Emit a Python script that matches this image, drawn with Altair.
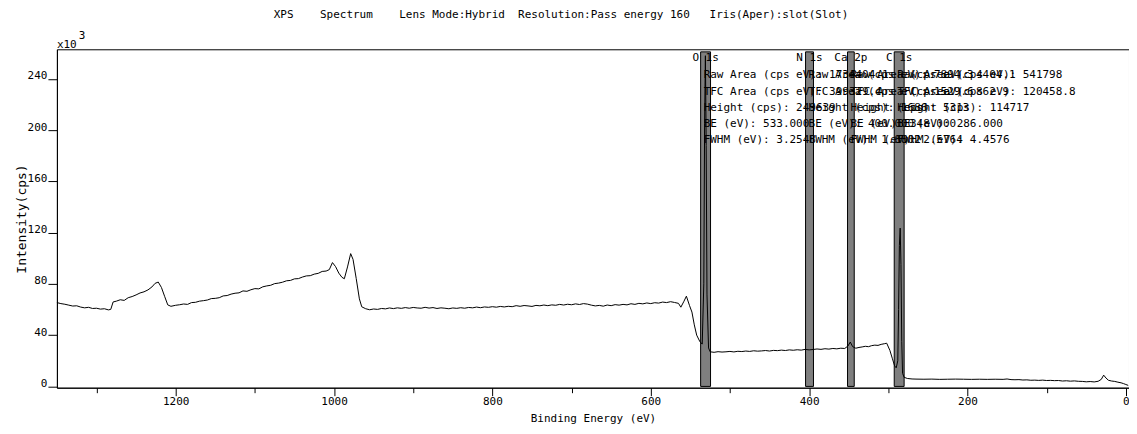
import altair as alt
import pandas as pd

FONT = "DejaVu Sans Mono"

# ---- spectrum (binding energy in eV, intensity in 10^3 cps) ----
be_ev = [
    1350, 1345, 1340, 1335, 1330, 1325, 1320, 1315, 1310, 1305,
    1300, 1295, 1290, 1285, 1282, 1279, 1275, 1270, 1265, 1260,
    1255, 1250, 1245, 1240, 1235, 1230, 1226, 1222, 1218, 1214,
    1210, 1206, 1200, 1195, 1190, 1185, 1180, 1175, 1170, 1165,
    1160, 1155, 1150, 1145, 1140, 1135, 1130, 1125, 1120, 1115,
    1110, 1105, 1100, 1095, 1090, 1085, 1080, 1075, 1070, 1065,
    1060, 1055, 1050, 1045, 1040, 1035, 1030, 1025, 1020, 1015,
    1010, 1006, 1002, 998, 994, 990, 987, 983, 979, 976,
    972, 968, 965, 960, 955, 950, 945, 940, 935, 930,
    925, 920, 915, 910, 905, 900, 895, 890, 885, 880,
    875, 870, 865, 860, 855, 850, 845, 840, 835, 830,
    825, 820, 815, 810, 805, 800, 795, 790, 785, 780,
    775, 770, 765, 760, 755, 750, 745, 740, 735, 730,
    725, 720, 715, 710, 705, 700, 695, 690, 685, 680,
    675, 670, 665, 660, 655, 650, 645, 640, 635, 630,
    625, 620, 615, 610, 605, 600, 595, 590, 585, 580,
    575, 570, 565, 562, 558, 555, 551, 548, 545, 542,
    538, 535, 533, 532, 531, 530, 529, 527, 525, 520,
    515, 510, 505, 500, 495, 490, 485, 480, 475, 470,
    465, 460, 455, 450, 445, 440, 435, 430, 425, 420,
    415, 410, 405, 400, 395, 390, 385, 380, 375, 370,
    365, 360, 355, 351, 348, 345, 341, 337, 333, 329,
    325, 321, 317, 313, 309, 305, 302, 298, 295, 292,
    290, 288, 287, 286, 285, 284, 283, 282, 280, 276,
    270, 265, 255, 245, 235, 225, 215, 205, 195, 185,
    175, 165, 155, 150, 145, 140, 135, 130, 125, 120,
    115, 110, 105, 100, 95, 90, 85, 80, 75, 70,
    65, 60, 55, 50, 45, 40, 35, 31, 28, 25,
    22, 18, 14, 10, 6, 3, 0, -3,
]
cps_k = [
    65.4, 64.6, 64.1, 63.4, 62.7, 62.9, 61.9, 61.3, 61.7, 60.8,
    61.0, 60.3, 60.6, 59.7, 60.1, 65.9, 66.5, 67.6, 67.1, 69.2,
    70.1, 71.4, 72.9, 73.8, 75.3, 77.6, 80.4, 81.4, 77.2, 70.3,
    63.6, 62.5, 63.3, 63.7, 64.3, 64.0, 65.4, 65.6, 66.5, 66.9,
    67.4, 68.5, 68.7, 69.2, 70.6, 70.9, 72.0, 72.7, 73.0, 74.5,
    74.2, 75.4, 76.3, 76.1, 77.7, 78.4, 78.9, 80.2, 80.6, 81.3,
    82.4, 82.7, 83.9, 84.1, 85.3, 86.2, 86.4, 87.6, 88.2, 89.7,
    90.0, 91.1, 96.6, 93.4, 88.4, 85.1, 84.0, 93.2, 103.6, 99.1,
    84.2, 68.3, 62.1, 60.6, 59.8, 60.4, 60.1, 60.8, 60.5, 61.2,
    60.7, 61.3, 60.9, 61.5, 61.0, 61.6, 61.2, 61.0, 61.7, 61.1,
    61.5, 60.8, 61.3, 61.0, 60.6, 61.2, 60.9, 61.4, 61.0, 61.6,
    61.3, 61.9, 61.4, 62.0, 61.7, 62.2, 61.8, 62.4, 62.0, 62.5,
    62.2, 63.0, 62.5, 63.1, 62.8, 62.4, 63.2, 62.9, 63.5, 63.0,
    63.6, 63.3, 64.0, 63.5, 64.1, 63.7, 64.4, 63.9, 64.6, 64.2,
    63.4, 62.8, 63.2, 62.6, 63.5, 63.0, 63.8, 63.4, 64.0, 63.6,
    64.5, 64.0, 64.8, 64.4, 65.1, 64.6, 65.3, 65.0, 65.8, 65.4,
    66.1, 65.5, 64.8, 61.8, 66.5, 70.4, 63.0, 58.0, 48.0, 40.0,
    35.0, 33.0, 80.0, 205.0, 258.0, 188.0, 72.0, 30.0, 27.0, 26.6,
    27.1, 26.8, 27.0, 27.3, 26.9, 27.4, 27.2, 27.6, 27.3, 27.8,
    27.5, 27.7, 28.0, 27.6, 28.1, 27.9, 28.3, 28.0, 28.5, 28.2,
    28.6, 28.3, 28.9, 28.5, 28.8, 29.2, 28.9, 29.4, 29.1, 29.6,
    29.3, 29.8, 29.6, 31.5, 34.6, 31.0, 29.8, 30.4, 30.8, 31.3,
    31.0, 31.8, 32.2, 32.0, 32.8, 33.3, 33.7, 28.1, 22.0, 16.0,
    14.5, 20.0, 60.0, 110.0, 123.5, 95.0, 35.0, 10.2, 7.1, 6.2,
    5.8, 5.7, 5.6, 5.7, 5.5, 5.6, 5.7, 5.6, 5.5, 5.6,
    5.5, 5.6, 5.5, 5.8, 5.3, 5.2, 5.3, 5.0, 5.1, 4.8,
    4.9, 4.7, 4.9, 4.6, 4.7, 4.5, 4.6, 4.2, 4.4, 4.1,
    4.3, 4.0, 3.9, 3.6, 3.8, 3.5, 4.0, 5.5, 8.8, 6.5,
    4.8, 4.2, 3.9, 3.3, 2.8, 2.2, 1.5, 0.8,
]

# ---- peak regions and their quantification text ----
peak_names = ["O 1s", "N 1s", "Ca 2p", "C 1s"]
band_hi_ev = [537.0, 404.5, 351.5, 292.5]
band_lo_ev = [524.5, 394.5, 343.0, 280.0]
band_top_k = 261
raw_area = ["1734404.1", "7894.3", "4404.1", "541798"]
tfc_area = ["399329.4", "1529.6", "862.9", "120458.8"]
height_cps = ["249639", "1686", "5313", "114717"]
be_center = ["533.000", "400.000", "348.000", "286.000"]
fwhm_ev = ["3.2548", "1.8802", "2.5764", "4.4576"]

NB = "\u00a0"
title_text = ("XPS" + NB * 4 + "Spectrum" + NB * 4 + "Lens Mode:Hybrid" + NB * 2 +
              "Resolution:Pass energy 160" + NB * 3 + "Iris(Aper):slot(Slot)")

spec = pd.DataFrame({"be": be_ev, "cps": cps_k})
peaks = pd.DataFrame({
    "name": peak_names, "hi": band_hi_ev, "lo": band_lo_ev,
    "raw": raw_area, "tfc": tfc_area, "h": height_cps, "bec": be_center, "fw": fwhm_ev,
})
peaks["mid"] = (peaks["hi"] + peaks["lo"]) / 2
peaks["top"] = band_top_k
peaks["bottom"] = 0
peaks["t1"] = "Raw Area (cps eV): " + peaks["raw"]
peaks["t2"] = "TFC Area (cps eV): " + peaks["tfc"]
peaks["t3"] = "Height (cps): " + peaks["h"]
peaks["t4"] = "BE (eV): " + peaks["bec"]
peaks["t5"] = "FWHM (eV): " + peaks["fw"]

xs = alt.Scale(domain=[-4, 1350], reverse=True, nice=False, zero=False)
ys = alt.Scale(domain=[-1, 263], nice=False, zero=False)

common_axis = dict(
    domainColor="black", tickColor="black", labelColor="black", titleColor="black",
    labelFont=FONT, titleFont=FONT, labelFontSize=11,
    titleFontWeight="normal", domainWidth=1, tickWidth=1, grid=False,
    labelFlush=False, labelOverlap=False, format="d",
)
x_axis = alt.Axis(
    title="Binding Energy (eV)",
    values=list(range(0, 1351, 50)),
    labelExpr="datum.value % 200 === 0 ? datum.label : ''",
    tickSize={"condition": {"test": "datum.value % 200 === 0", "value": 8}, "value": 5},
    labelPadding=0, titlePadding=6, titleFontSize=11, **common_axis,
)
y_axis = alt.Axis(
    title="Intensity(cps)",
    values=list(range(0, 261, 20)),
    labelExpr="datum.value % 40 === 0 ? datum.label : ''",
    tickSize={"condition": {"test": "datum.value % 40 === 0", "value": 9}, "value": 5},
    labelBaseline="alphabetic", labelPadding=1, titlePadding=-1, titleFontSize=13,
    **common_axis,
)

bands = alt.Chart(peaks).mark_rect(fill="#7f7f7f", stroke="black", strokeWidth=1).encode(
    x=alt.X("hi:Q", scale=xs, axis=x_axis),
    x2="lo:Q",
    y=alt.Y("bottom:Q", scale=ys, axis=y_axis),
    y2="top:Q",
)

line = alt.Chart(spec).mark_line(color="black", strokeWidth=1, interpolate="linear").encode(
    x=alt.X("be:Q", scale=xs),
    y=alt.Y("cps:Q", scale=ys),
)

txt_style = dict(font=FONT, fontSize=11, color="black", baseline="middle")

labels = alt.Chart(peaks).mark_text(align="center", **txt_style).encode(
    x=alt.X("mid:Q", scale=xs), y=alt.value(9), text="name:N"
)
info_layers = []
for field, ypx in [("t1", 26), ("t2", 42.5), ("t3", 59), ("t4", 75), ("t5", 91)]:
    info_layers.append(
        alt.Chart(peaks).mark_text(align="left", dx=3, **txt_style).encode(
            x=alt.X("hi:Q", scale=xs), y=alt.value(ypx), text=f"{field}:N"
        )
    )

exp_df = pd.DataFrame({"t": ["x10"], "s": ["3"], "title": [title_text]})
exp_main = alt.Chart(exp_df).mark_text(align="left", baseline="alphabetic", font=FONT,
                                       fontSize=11, color="black").encode(
    x=alt.value(0), y=alt.value(-1), text="t:N")
exp_sup = alt.Chart(exp_df).mark_text(align="left", baseline="alphabetic", font=FONT,
                                      fontSize=11, color="black").encode(
    x=alt.value(22), y=alt.value(-10), text="s:N")
title_mark = alt.Chart(exp_df).mark_text(align="center", baseline="middle", font=FONT,
                                         fontSize=11, color="black").encode(
    x=alt.value(505), y=alt.value(-34), text="title:N")

chart = alt.layer(bands, line, labels, *info_layers, exp_main, exp_sup, title_mark).properties(
    width=1074, height=339,
    autosize=alt.AutoSizeParams(type="none"),
    padding={"left": 49, "top": 41, "right": 0, "bottom": 36},
    background="white",
).configure_view(stroke="black", strokeWidth=1)

chart.save("out.html", embed_options={"renderer": "svg", "actions": False})
